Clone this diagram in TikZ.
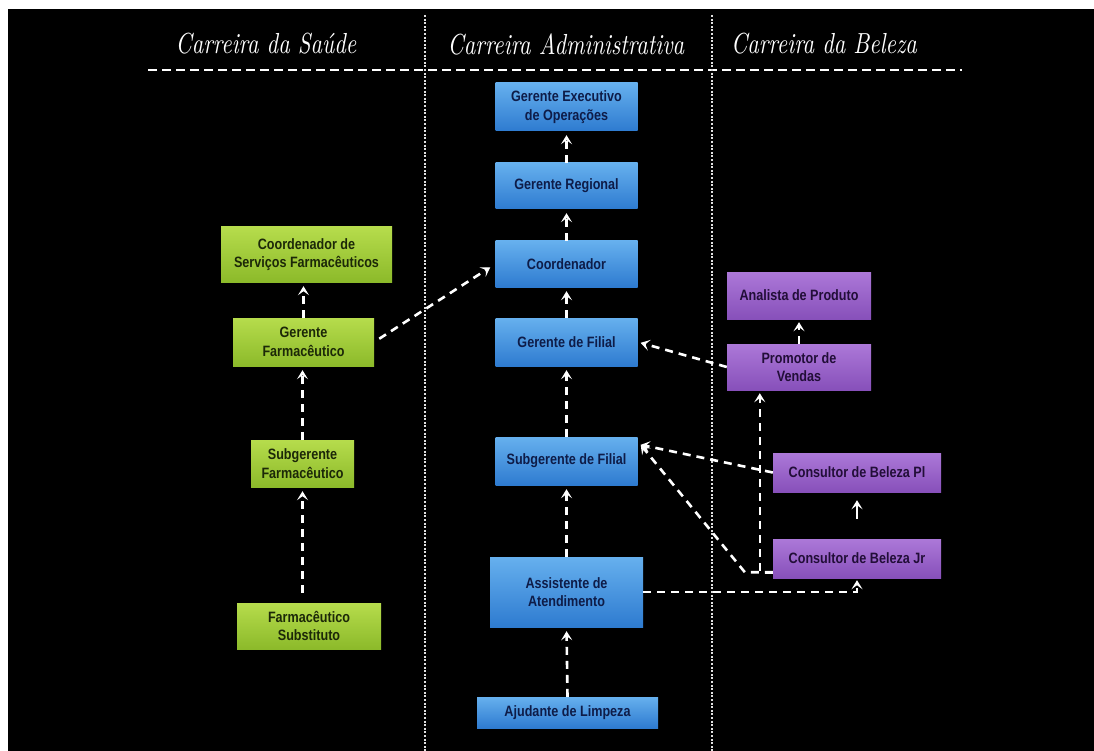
\documentclass[tikz,border=0pt]{standalone}
\usepackage{fontspec}
\newfontfamily\bxfont[FakeStretch=0.84]{Liberation Sans}
\newfontfamily\headfont[FakeStretch=0.78,ItalicFont=lmroman10-italic.otf]{lmroman10-regular.otf}
\usetikzlibrary{arrows.meta,calc}
\definecolor{bluetop}{HTML}{66B0EE}
\definecolor{bluebot}{HTML}{2E7BD0}
\definecolor{bluetxt}{HTML}{0E1C48}
\definecolor{greentop}{HTML}{B6DC4C}
\definecolor{greenbot}{HTML}{8CBA2A}
\definecolor{greentxt}{HTML}{1C2808}
\definecolor{purptop}{HTML}{AC78D8}
\definecolor{purpbot}{HTML}{8750BA}
\definecolor{purptxt}{HTML}{220E38}
\begin{document}
\begin{tikzpicture}[x=1pt,y=-1pt,
  box/.style={rectangle, inner sep=0pt, align=center, draw=none,
    font=\bxfont\bfseries\fontsize{15}{18.5}\selectfont},
  bluebox/.style={box, top color=bluetop, bottom color=bluebot, text=bluetxt},
  greenbox/.style={box, top color=greentop, bottom color=greenbot, text=greentxt},
  purpbox/.style={box, top color=purptop, bottom color=purpbot, text=purptxt},
  conn/.style={draw=white, line width=2.6pt, dash pattern=on 8pt off 6pt,
    -{Stealth[length=9pt,width=11pt,inset=4pt]}},
  shortconn/.style={draw=white, line width=2.6pt,
    -{Stealth[length=9pt,width=11pt,inset=4pt]}},
  divider/.style={draw=white!88!black, line width=2.4pt, dash pattern=on 2pt off 1.6pt},
  headline/.style={draw=white, line width=2.8pt, dash pattern=on 9pt off 5pt},
  head/.style={text=white, inner sep=0pt, font=\headfont\itshape\fontsize{29}{32}\selectfont}
]
% background
\fill[white] (0,0) rectangle (1094,751);
\fill[black] (8,9) rectangle (1094,751);
\useasboundingbox (0,0) rectangle (1094,751);

% headers
\node[head] (h1) at (266,44) {Carreira da Saúde};
\node[head] (h2) at (566,44) {Carreira Administrativa};
\node[head] (h3) at (824,44) {Carreira da Beleza};
\draw[headline] (148,70) -- (962,70);
\draw[divider] (425,15) -- (425,751);
\draw[divider] (712,15) -- (712,751);

% blue column
\node[bluebox, minimum width=142pt, minimum height=48pt] (ge) at (566.5,107) {Gerente Executivo\\de Operações};
\node[bluebox, minimum width=142pt, minimum height=46pt] (gr) at (566.5,186) {Gerente Regional};
\node[bluebox, minimum width=142pt, minimum height=46pt] (co) at (566.5,264) {Coordenador};
\node[bluebox, minimum width=142pt, minimum height=48pt] (gf) at (566.5,342) {Gerente de Filial};
\node[bluebox, minimum width=142pt, minimum height=48pt] (sf) at (566.5,461) {Subgerente de Filial};
\node[bluebox, minimum width=153pt, minimum height=70pt] (aa) at (566.5,592) {Assistente de\\Atendimento};
\node[bluebox, minimum width=181pt, minimum height=31pt] (al) at (567.5,712.5) {Ajudante de Limpeza};

% green column
\node[greenbox, minimum width=171pt, minimum height=55pt] (csf) at (306.5,254.5) {Coordenador de\\Serviços Farmacêuticos};
\node[greenbox, minimum width=141pt, minimum height=48pt] (gfa) at (303.5,342) {Gerente\\Farmacêutico};
\node[greenbox, minimum width=103pt, minimum height=47pt] (sfa) at (302.5,463.5) {Subgerente\\Farmacêutico};
\node[greenbox, minimum width=144pt, minimum height=46pt] (fs) at (309,626) {Farmacêutico\\Substituto};

% purple column
\node[purpbox, minimum width=144pt, minimum height=47pt] (ap) at (799,295.5) {Analista de Produto};
\node[purpbox, minimum width=144pt, minimum height=46pt] (pv) at (799,367) {Promotor de\\Vendas};
\node[purpbox, minimum width=168pt, minimum height=39pt] (cpl) at (857,472.5) {Consultor de Beleza Pl};
\node[purpbox, minimum width=168pt, minimum height=39pt] (cjr) at (857,558.5) {Consultor de Beleza Jr};

% blue connectors
\draw[conn, shorten >=4pt] (gr.north) -- (ge.south);
\draw[conn, shorten >=4pt] (co.north) -- (gr.south);
\draw[conn, shorten >=4pt] (gf.north) -- (co.south);
\draw[conn, shorten >=4pt] (sf.north) -- (gf.south);
\draw[conn, shorten >=4pt] (aa.north) -- (sf.south);
\draw[conn, shorten >=4pt] (al.north) -- (aa.south);

% green connectors
\draw[conn, shorten >=4pt] (gfa.north) -- (gfa.north |- csf.south);
\draw[conn, shorten >=4pt] (sfa.north) -- (sfa.north |- gfa.south);
\draw[conn, shorten >=4pt, shorten <=10pt] (sfa.south |- fs.north) -- (sfa.south);
\draw[conn, shorten <=6pt, shorten >=6pt] (gfa.east) -- (co.west);

% purple connectors
\coordinate (sfin) at ($(sf.north east)+(3,8)$);
\coordinate (jw) at ($(cjr.south west)+(0,-6)$);
\coordinate (jv) at ($(jw)+(-13,0)$);
\draw[conn, shorten >=3pt] (pv.west) -- (gf.east);
\draw[conn, shorten >=3pt] (pv.north) -- (ap.south);
\draw[conn] (cpl.west) -- (sfin);
\draw[conn] (jw) -- ($(jw)+(-28,0)$) -- (sfin);
\draw[conn, shorten >=3pt] (jw) -- (jv) -- (jv |- pv.south);
\draw[conn, shorten >=2pt] (aa.east) -| (cjr.south);
\draw[shortconn, shorten <=20pt, shorten >=8pt] (cjr.north) -- (cpl.south);
\end{tikzpicture}
\end{document}
